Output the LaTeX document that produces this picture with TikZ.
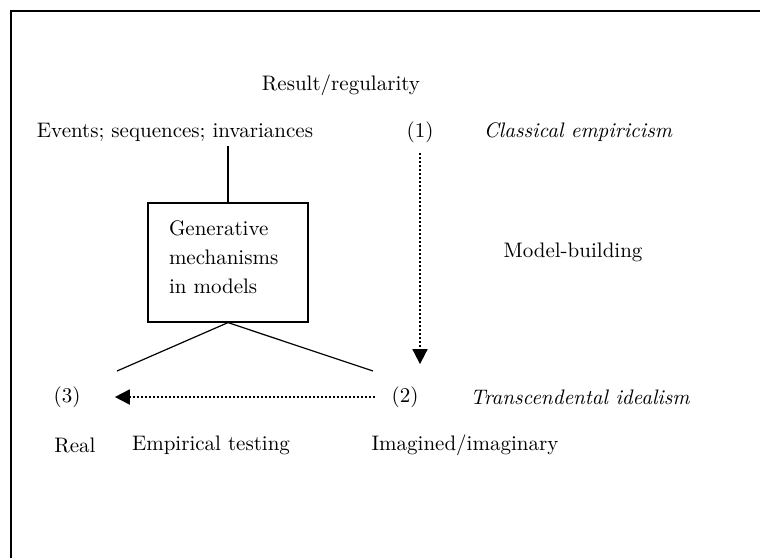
\documentclass[tikz,border=0pt]{standalone}
\usetikzlibrary{positioning,arrows.meta}

\begin{document}
\begin{tikzpicture}[x=0.5pt,y=-0.5pt,font=\fontsize{10.5}{13.75}\selectfont,>={Triangle[length=7.5pt,width=7.5pt]},
  lbl/.style={inner sep=2pt},
  mech/.style={draw,line width=0.6pt,inner xsep=10.5pt,inner ysep=9pt},
  link/.style={line width=0.6pt},
  flow/.style={->,line width=0.9pt,dash pattern=on 0.9pt off 1.1pt}]
  \useasboundingbox (0,0) rectangle (760,558);
  % frame
  \draw[line width=1pt] (11,558) -- (11,11) -- (760,11);
  \node[lbl] (result) at (341,85) {Result/regularity};
  \node[lbl] (events) at (175,132) {Events; sequences; invariances};
  \node[lbl] (one) at (420,132) {(1)};
  \node[lbl] (classic) at (578,132) {\itshape Classical empiricism};
  \node[mech] (gen) at (228,262.5) {\begin{minipage}[c][41.5pt][t]{59pt}
    \baselineskip=14.4pt Generative\\mechanisms\\in models\end{minipage}};
  \node[lbl] (model) at (573,252) {Model-building};
  \node[lbl] (three) at (67,397) {(3)};
  \node[lbl] (two) at (405,397) {(2)};
  \node[lbl] (trans) at (580,397) {\itshape Transcendental idealism};
  \node[lbl] (real) at (75,445) {Real};
  \node[lbl] (test) at (211,445) {Empirical testing};
  \node[lbl] (imag) at (465,445) {Imagined/imaginary};
  \coordinate (lfoot) at (117,371);
  \coordinate (rfoot) at (373,371);
  \draw[link] (gen.north) -- (gen.north |- events.south);
  \draw[link] (lfoot) -- (gen.south) -- (rfoot);
  \draw[flow,shorten <=3pt,shorten >=9pt] (one.south) -- (one.south |- two.north);
  \draw[flow,shorten <=6pt,shorten >=15pt] (two.west) -- (three.east);
\end{tikzpicture}
\end{document}
